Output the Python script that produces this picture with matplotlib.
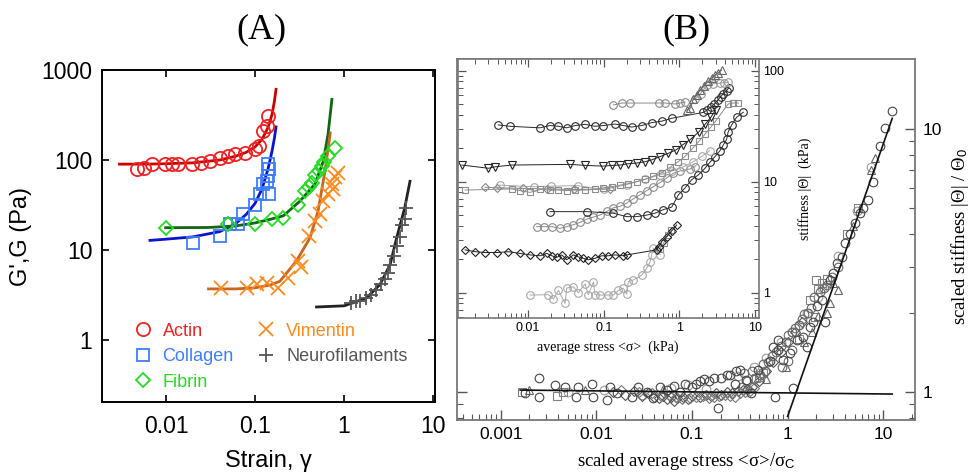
import matplotlib
matplotlib.use("Agg")
import matplotlib.pyplot as plt
from matplotlib.lines import Line2D
from matplotlib.ticker import LogLocator, FuncFormatter, NullLocator

# ---------------- panel A : G' vs strain ----------------
actin_x = [0.0047, 0.0056, 0.0069, 0.0098, 0.0116, 0.0138, 0.0195, 0.025, 0.031, 0.040,
           0.050, 0.060, 0.077, 0.10, 0.11, 0.124, 0.135, 0.141]
actin_y = [79, 82, 90, 90, 91, 91, 90, 93, 97, 104, 110, 116, 121, 131, 143, 210, 240, 308]
actin_fit_x = [0.003, 0.006, 0.01, 0.02, 0.04, 0.06, 0.08, 0.1, 0.12, 0.14, 0.155, 0.165, 0.172]
actin_fit_y = [90, 90, 91, 93, 100, 110, 122, 140, 170, 230, 320, 450, 610]

collagen_x = [0.0203, 0.0404, 0.052, 0.065, 0.074, 0.1, 0.114, 0.124, 0.135, 0.14, 0.145, 0.141, 0.145]
collagen_y = [12.0, 14.3, 19.3, 19.3, 24.9, 32, 41.6, 53.7, 58, 66, 79, 90, 42]
collagen_fit_x = [0.0066, 0.01, 0.02, 0.04, 0.06, 0.08, 0.1, 0.12, 0.14, 0.155, 0.165, 0.172]
collagen_fit_y = [12.8, 13.2, 14, 16, 19.5, 25, 33, 48, 80, 125, 175, 233]

fibrin_x = [0.0099, 0.05, 0.1, 0.154, 0.208, 0.307, 0.365, 0.434, 0.47, 0.56, 0.66, 0.79, 0.40, 0.52, 0.60]
fibrin_y = [17.7, 19.3, 19.3, 21.9, 22.7, 32, 45, 56, 69, 86, 111, 137, 50, 75, 95]
fibrin_fit_x = [0.0099, 0.03, 0.06, 0.1, 0.15, 0.208, 0.32, 0.47, 0.585, 0.66, 0.73]
fibrin_fit_y = [17.7, 17.8, 18.5, 20, 22, 24, 35, 54, 97, 193, 472]

vim_x = [0.042, 0.081, 0.105, 0.135, 0.18, 0.237, 0.307, 0.33, 0.40, 0.47, 0.53, 0.58,
         0.66, 0.73, 0.75, 0.79, 0.85]
vim_y = [3.75, 3.75, 4.2, 4.3, 3.8, 4.9, 7.5, 6.5, 14.3, 21, 25, 35, 42, 54, 48, 64, 72]
vim_fit_x = [0.03, 0.06, 0.1, 0.15, 0.19, 0.29, 0.415, 0.51, 0.61, 0.7]
vim_fit_y = [3.7, 3.7, 3.8, 4.1, 4.5, 7.5, 13.7, 27, 75, 200]

nf_x = [1.2, 1.35, 1.5, 1.75, 2.0, 2.3, 2.6, 2.9, 3.1, 3.3, 3.6, 3.9, 4.2, 4.5, 4.8, 5.0]
nf_y = [2.6, 2.7, 2.75, 2.9, 3.2, 3.6, 4.2, 4.8, 5.6, 6.8, 8.5, 11, 14, 19, 22, 29.5]
nf_fit_x = [0.49, 1.0, 1.27, 1.8, 2.54, 3.29, 3.9, 4.8, 5.5]
nf_fit_y = [2.33, 2.4, 2.6, 2.95, 4.16, 6.9, 13.7, 29.5, 58]

labels_A = ["Actin", "Collagen", "Fibrin", "Vimentin", "Neurofilaments"]

# ---------------- panel B inset : stiffness vs stress (kPa) ----------------
in1_x = [0.134, 0.173, 0.222, 0.53, 0.645, 0.875, 1.02, 1.19]
in1_y = [49, 51, 51, 51, 51, 50, 51, 52]
in2_x = [1.25, 1.4, 1.53, 1.7, 1.87, 2.1, 2.41, 2.7, 2.95, 3.2, 3.62]
in2_y = [44, 46, 56, 60, 67, 72, 80, 86, 91, 95, 101]
in3_x = [1.6, 1.9, 2.3, 2.8, 3.44, 3.9, 4.4]
in3_y = [55, 62, 74, 76, 77, 78, 78.5]
in4_x = [0.00405, 0.00578, 0.0144, 0.0195, 0.0252, 0.0324, 0.0418, 0.0566, 0.0767, 0.0989,
         0.141, 0.181, 0.234, 0.318, 0.43, 0.58, 0.79, 2.07, 2.3, 2.6, 2.9, 3.2, 3.5, 3.8, 4.2, 4.5]
in4_y = [32.4, 31.5, 30.5, 32, 31.5, 30.5, 32, 32.8, 31.5, 32,
         33, 32, 31, 32, 34, 35, 37.2, 42, 44, 47, 50, 54, 58, 62, 66, 70]
in5_x = [0.00133, 0.003, 0.00367, 0.0061, 0.0359, 0.0566, 0.0989, 0.128, 0.164, 0.211, 0.273,
         0.351, 0.43, 0.555, 0.714, 0.9, 1.1, 1.4, 1.8, 2.2, 2.6, 3.0]
in5_y = [14.1, 13.2, 13.6, 14.1, 14.3, 14.0, 13.8, 14.0, 14.1, 14.5, 14.7,
         15.1, 15.7, 16.8, 18, 19.3, 21.4, 24, 28, 33, 38, 44]
in6_x = [0.00147, 0.0061, 0.0078, 0.0106, 0.0144, 0.0195, 0.0252, 0.0324, 0.0418, 0.0566,
         0.0767, 0.0989, 0.128, 0.164, 0.211, 0.273, 0.351, 0.45, 0.58, 0.75,
         0.95, 1.2, 1.5, 1.8, 2.2, 2.6, 3.0, 4.4, 5.15, 6.0]
in6_y = [8.4, 8.6, 8.3, 8.0, 8.5, 8.4, 8.4, 8.3, 8.4, 8.4,
         8.5, 8.8, 9.0, 9.3, 9.6, 10, 10.5, 11.2, 12, 13.5,
         15, 17, 20, 23, 27, 31, 35, 50, 51, 51]
in7_x = [0.0027, 0.0039, 0.0086, 0.018, 0.04, 0.12]
in7_y = [8.9, 8.8, 8.7, 8.6, 8.5, 8.6]
in8_x = [0.0042, 0.012, 0.02, 0.045, 0.1, 0.2, 0.35, 0.55, 0.8, 1.1, 1.5, 2.0, 2.5]
in8_y = [9.3, 9.0, 9.1, 9.2, 8.5, 9.4, 10.5, 11.5, 12.5, 13.5, 15, 17, 19]
in9_x = [0.0195, 0.0596, 0.134, 0.201, 0.273, 0.37, 0.477, 0.614, 0.79, 0.97, 1.19, 1.45,
         1.78, 2.18, 2.54, 2.95, 3.44, 3.8, 4.2, 4.4, 4.9, 5.7, 7.0]
in9_y = [5.37, 5.37, 5.2, 4.84, 4.84, 5.0, 5.2, 5.6, 5.9, 7.6, 8.8, 10.4,
         11.5, 13.2, 15, 16.8, 19, 21.4, 24, 28, 32.4, 38, 42.2]
in10_x = [0.013, 0.016, 0.0206, 0.0265, 0.0324, 0.0397, 0.0487, 0.0596, 0.073, 0.0894, 0.11,
          0.134, 0.164, 0.201, 0.246, 0.302, 0.37, 0.453, 0.555, 0.68, 0.83, 1.02, 1.38, 1.6]
in10_y = [3.93, 3.93, 3.93, 3.8, 3.93, 4.1, 4.3, 4.6, 4.8, 5.0, 5.4,
          5.8, 6.0, 6.4, 7.0, 7.6, 8.3, 9.0, 9.8, 10.8, 11.9, 12.5, 13.0, 13.6]
in11_x = [0.00147, 0.002, 0.0027, 0.00386, 0.0055, 0.0078, 0.0106, 0.0144, 0.0177, 0.0206,
          0.0239, 0.0279, 0.0324, 0.0397, 0.0462, 0.0538, 0.0626, 0.0767, 0.094, 0.115,
          0.141, 0.181, 0.201, 0.5, 0.53, 0.58, 0.68, 0.79, 0.92]
in11_y = [2.43, 2.34, 2.3, 2.3, 2.34, 2.26, 2.19, 2.15, 2.26, 2.15,
          2.08, 2.19, 1.98, 2.19, 2.10, 2.04, 1.98, 2.04, 2.15, 2.15,
          2.19, 2.15, 2.19, 2.43, 2.6, 2.88, 3.2, 3.6, 4.07]
in12_x = [0.55, 0.62, 0.7, 0.78]
in12_y = [2.5, 2.8, 3.3, 3.7]
in13_x = [0.0106, 0.0186, 0.0216, 0.0252, 0.0308, 0.0324, 0.0397, 0.0462, 0.0566, 0.0626,
          0.073, 0.0767, 0.0894, 0.115, 0.134, 0.156, 0.181, 0.201, 0.211, 0.246,
          0.318, 0.37, 0.41, 0.43, 0.453, 0.555]
in13_y = [0.953, 0.96, 0.88, 1.05, 0.80, 1.1, 1.13, 1.0, 1.2, 0.96,
          1.25, 0.96, 0.953, 0.953, 0.953, 1.05, 1.1, 0.97, 1.26, 1.3,
          1.44, 1.66, 1.9, 2.19, 2.51, 2.2]

# ---------------- panel B main : scaled data ----------------
oc_x = [0.0018, 0.0025, 0.0025, 0.0037, 0.0047, 0.0062, 0.0065, 0.009, 0.0093, 0.0129,
        0.0139, 0.0163, 0.0234, 0.0275, 0.0336, 0.0394, 0.046, 0.055, 0.065, 0.075,
        0.085, 0.10, 0.11, 0.12, 0.135, 0.15, 0.17, 0.188, 0.20, 0.23,
        0.25, 0.28, 0.29, 0.32, 0.37, 0.41, 0.49, 0.65, 0.71, 0.74,
        0.79, 0.80, 0.90, 1.06, 1.15, 1.24, 1.46, 1.58, 1.71, 1.85,
        2.01, 2.26, 2.45, 2.77, 3.0, 3.25, 3.67, 3.97, 4.5, 5.05,
        5.7, 6.2, 6.95, 7.8, 9.2, 10.4, 12.2]
oc_y = [0.99, 1.13, 0.96, 1.07, 1.05, 0.96, 1.05, 1.08, 0.96, 0.935,
        1.05, 0.99, 0.96, 1.05, 1.0, 0.95, 1.05, 1.02, 1.06, 1.0,
        1.08, 1.05, 1.08, 1.10, 1.12, 1.10, 1.13, 0.87, 1.13, 1.16,
        1.16, 1.08, 1.20, 1.22, 1.11, 0.99, 1.22, 1.31, 1.49, 0.96,
        1.58, 1.45, 1.33, 1.41, 1.04, 1.58, 1.63, 1.49, 1.77, 1.85,
        2.12, 2.24, 1.85, 2.67, 2.83, 3.1, 3.28, 3.7, 4.0, 4.4,
        4.8, 5.0, 5.4, 6.3, 8.6, 10.1, 11.7]
oc2_x = [0.35, 0.42, 0.55, 0.62, 0.68, 0.75, 0.85, 0.95, 1.0, 1.1,
         1.2, 1.3, 1.4, 1.5, 1.65, 1.75, 1.9, 2.2, 2.4, 2.6,
         2.9, 3.4, 0.33, 0.38, 0.45, 0.52, 0.58, 0.88, 1.02, 1.12]
oc2_y = [1.18, 1.2, 1.28, 1.3, 1.38, 1.42, 1.5, 1.55, 1.65, 1.7,
         1.75, 1.8, 1.9, 1.98, 2.0, 2.1, 2.3, 2.4, 2.5, 2.55,
         2.75, 3.0, 1.05, 1.1, 1.12, 1.16, 1.2, 1.25, 1.32, 1.45]
ol_x = [0.005, 0.012, 0.03, 0.06, 0.09, 0.14, 0.3, 0.45, 0.6, 0.85, 1.1, 1.3, 1.6, 2.1, 2.3, 3.4, 5.3, 7.5]
ol_y = [1.0, 1.02, 0.98, 1.04, 1.07, 1.03, 1.15, 1.25, 1.35, 1.55, 1.7, 1.8, 2.0, 2.3, 2.5, 3.3, 4.9, 7.2]
od_x = [0.015, 0.02, 0.025, 0.03, 0.035, 0.04, 0.045, 0.05, 0.055, 0.06,
        0.065, 0.07, 0.08, 0.09, 0.1, 0.12, 0.14, 0.16, 0.18, 0.2,
        0.23, 0.26, 0.3, 0.34, 0.38, 0.42, 0.5, 0.6, 0.7, 0.85, 1.0, 1.2, 1.4]
od_y = [1.0, 0.98, 1.01, 0.97, 0.99, 0.96, 0.95, 0.97, 0.94, 0.96,
        0.93, 0.95, 0.96, 0.94, 0.97, 0.96, 0.98, 0.97, 0.99, 0.98,
        1.0, 0.99, 1.01, 1.02, 1.03, 1.05, 1.1, 1.2, 1.3, 1.42, 1.55, 1.7, 1.85]
od2_x = [0.018, 0.028, 0.038, 0.048, 0.058, 0.068, 0.078, 0.095, 0.11, 0.13,
         0.15, 0.17, 0.19, 0.22, 0.25, 0.28, 0.32, 0.36, 0.4, 0.45]
od2_y = [1.02, 1.0, 0.99, 0.97, 0.98, 0.96, 0.94, 0.95, 0.96, 0.97,
         0.95, 0.96, 0.97, 0.98, 0.97, 0.96, 0.99, 1.0, 1.01, 1.04]
os_x = [0.00166, 0.00385, 0.0045, 0.47, 0.5, 0.55, 1.3, 1.71, 1.93, 2.0, 2.09, 2.3, 2.6, 4.2, 5.5]
os_y = [1.0, 0.97, 1.0, 1.13, 1.14, 1.18, 1.6, 2.24, 1.94, 2.67, 2.48, 2.6, 2.7, 4.0, 5.0]
ot_x = [0.002, 0.0076, 0.05, 0.6, 0.95, 1.5, 1.8, 2.1, 2.55, 2.77, 3.0, 3.36, 4.8, 7.5, 8.2]
ot_y = [1.02, 1.02, 1.03, 1.12, 1.25, 1.55, 1.7, 1.95, 2.0, 2.18, 2.6, 2.45, 4.3, 7.0, 7.8]
flat_x = [0.0016, 12.4]
flat_y = [1.02, 0.985]
steep_x = [1.0, 12.4]
steep_y = [0.81, 11.0]

# ---------------- style ----------------
plt.rcParams['font.family'] = ['Liberation Sans', 'DejaVu Sans']
plt.rcParams['mathtext.fontset'] = 'custom'
plt.rcParams['mathtext.rm'] = 'Liberation Serif'
plt.rcParams['mathtext.sf'] = 'Liberation Sans'
plt.rcParams['mathtext.it'] = 'Liberation Serif:italic'
SERIF = ['Liberation Serif', 'DejaVu Serif']
plain = FuncFormatter(lambda v, p: f'{v:g}')
blank = FuncFormatter(lambda v, p: '')

fig = plt.figure(figsize=(9.76, 4.73), dpi=100)

# ===== panel A =====
axA = fig.add_axes([0.1045, 0.1501, 0.3412, 0.7019])
axA.set_xscale('log')
axA.set_yscale('log')

series_A = [
    (actin_x, actin_y, actin_fit_x, actin_fit_y, 'o', '#ee2222', '#cc0000', 9.5),
    (collagen_x, collagen_y, collagen_fit_x, collagen_fit_y, 's', '#3c7dff', '#0a14cc', 8.5),
    (fibrin_x, fibrin_y, fibrin_fit_x, fibrin_fit_y, 'D', '#22dd22', '#116611', 7.5),
    (vim_x, vim_y, vim_fit_x, vim_fit_y, 'x', '#ff8a1c', '#c8661e', 9.5),
    (nf_x, nf_y, nf_fit_x, nf_fit_y, '+', '#555555', '#222222', 9.5),
]
handles = []
for xs, ys, fx, fy, mk, mc, lc, ms in series_A:
    axA.plot(fx, fy, '-', color=lc, lw=2.0, zorder=2)
    axA.plot(xs, ys, linestyle='none', marker=mk, ms=ms, mfc='none', mec=mc, mew=1.3, zorder=3)
    handles.append(Line2D([], [], linestyle='none', marker=mk, ms=ms, mfc='none', mec=mc, mew=1.3))

axA.set_xlim(0.00191, 10.5)
axA.set_ylim(0.205, 1000)
axA.xaxis.set_major_locator(LogLocator(base=10, numticks=10))
axA.yaxis.set_major_locator(LogLocator(base=10, numticks=10))
axA.xaxis.set_minor_locator(NullLocator())
axA.yaxis.set_minor_locator(NullLocator())
axA.xaxis.set_major_formatter(plain)
axA.yaxis.set_major_formatter(plain)
axA.tick_params(which='major', direction='in', top=True, right=True, length=5, width=1.2,
                labelsize=16.5, pad=7)
axA.tick_params(axis='x', pad=9)
for sp in axA.spines.values():
    sp.set_linewidth(1.4)
axA.set_xlabel('Strain, γ', fontsize=17, labelpad=9)
axA.set_ylabel("G',G (Pa)", fontsize=17, labelpad=7)

axA.legend(handles, labels_A, ncol=2, loc='upper left', bbox_to_anchor=(0.095, 0.239),
           frameon=False, fontsize=13, handlelength=1.0, handletextpad=0.6,
           columnspacing=1.3, labelspacing=0.47, borderpad=0, borderaxespad=0,
           labelcolor=['#ee2222', '#3c7dff', '#22dd22', '#ff8a1c', '#555555'])

fig.text(0.2674, 0.937, '(A)', family=SERIF, fontsize=26, ha='center', va='center')
fig.text(0.7036, 0.937, '(B)', family=SERIF, fontsize=26, ha='center', va='center')

# ===== panel B main =====
axB = fig.add_axes([0.4685, 0.1121, 0.4695, 0.7632])
axB.set_xscale('log')
axB.set_yscale('log')
mk_kw = dict(linestyle='none', mfc='none', mew=0.8)
axB.plot(ol_x, ol_y, marker='o', ms=6.2, mec='#9a9a9a', **mk_kw)
axB.plot(od_x, od_y, marker='D', ms=4.8, mec='#555555', **mk_kw)
axB.plot(od2_x, od2_y, marker='D', ms=4.8, mec='#777777', **mk_kw)
axB.plot(os_x, os_y, marker='s', ms=5.8, mec='#808080', **mk_kw)
axB.plot(ot_x, ot_y, marker='^', ms=6.2, mec='#666666', **mk_kw)
axB.plot(oc2_x, oc2_y, marker='o', ms=6.2, mec='#666666', **mk_kw)
axB.plot(oc_x, oc_y, marker='o', ms=6.2, mec='#444444', **mk_kw)
axB.plot(flat_x, flat_y, '-', color='#111111', lw=1.2)
axB.plot(steep_x, steep_y, '-', color='#111111', lw=1.2)
axB.set_xlim(0.000352, 21.7)
axB.set_ylim(0.785, 18.5)
axB.xaxis.set_major_locator(LogLocator(base=10, numticks=12))
axB.xaxis.set_minor_locator(LogLocator(base=10, subs=range(2, 10), numticks=12))
axB.yaxis.set_major_locator(LogLocator(base=10, numticks=12))
axB.yaxis.set_minor_locator(LogLocator(base=10, subs=range(2, 10), numticks=12))
axB.xaxis.set_major_formatter(plain)
axB.yaxis.set_major_formatter(plain)
axB.xaxis.set_minor_formatter(blank)
axB.yaxis.set_minor_formatter(blank)
axB.tick_params(which='both', direction='in', top=False, left=True, right=True,
                labelleft=False, labelright=True, color='#555555', labelsize=12.5, pad=5)
axB.tick_params(which='major', length=7, width=1.0)
axB.tick_params(which='minor', length=4, width=0.8)
for sp in axB.spines.values():
    sp.set_color('#777777')
    sp.set_linewidth(1.3)
axB.set_xlabel(r'scaled average stress <σ>/σ$_{\mathsf{C}}$', family=SERIF, fontsize=13.5)
axB.xaxis.set_label_coords(0.499, -0.085)
axB.yaxis.set_label_position('right')
axB.set_ylabel(r'scaled stiffness |Θ| / Θ$_{\mathsf{0}}$', family=SERIF, fontsize=13.5)
axB.yaxis.set_label_coords(1.073, 0.507)

# ===== panel B inset =====
axI = fig.add_axes([0.4688, 0.327, 0.3084, 0.5482])
axI.set_facecolor('white')
axI.set_xscale('log')
axI.set_yscale('log')
inset_series = [
    (in13_x, in13_y, 'o', '#a8a8a8', 5.5),
    (in12_x, in12_y, 's', '#909090', 5),
    (in11_x, in11_y, 'D', '#222222', 4.5),
    (in10_x, in10_y, 'o', '#8a8a8a', 5.5),
    (in9_x, in9_y, 'o', '#2a2a2a', 5.5),
    (in8_x, in8_y, 'o', '#a8a8a8', 5.5),
    (in7_x, in7_y, 'D', '#888888', 4.5),
    (in6_x, in6_y, 's', '#8c8c8c', 5),
    (in5_x, in5_y, 'v', '#222222', 5.5),
    (in4_x, in4_y, 'o', '#2a2a2a', 5.5),
    (in3_x, in3_y, 'o', '#9a9a9a', 5.5),
    (in2_x, in2_y, '^', '#666666', 5.5),
    (in1_x, in1_y, 'o', '#8a8a8a', 5.5),
]
for xs, ys, mk, col, ms in inset_series:
    axI.plot(xs, ys, '-', color=col, lw=0.7, marker=mk, ms=ms, mfc='none', mec=col, mew=0.8)
axI.set_xlim(0.00117, 11.1)
axI.set_ylim(0.588, 127)
axI.xaxis.set_major_locator(LogLocator(base=10, numticks=12))
axI.xaxis.set_minor_locator(LogLocator(base=10, subs=range(2, 10), numticks=12))
axI.yaxis.set_major_locator(LogLocator(base=10, numticks=12))
axI.yaxis.set_minor_locator(LogLocator(base=10, subs=range(2, 10), numticks=12))
axI.xaxis.set_major_formatter(plain)
axI.yaxis.set_major_formatter(plain)
axI.xaxis.set_minor_formatter(blank)
axI.yaxis.set_minor_formatter(blank)
axI.tick_params(which='both', direction='in', top=True, bottom=True, left=True, right=True,
                labelleft=False, labelright=True, color='#555555', labelsize=9, pad=3)
axI.tick_params(which='major', length=6, width=0.9)
axI.tick_params(which='minor', length=3.5, width=0.7)
for sp in axI.spines.values():
    sp.set_color('#777777')
    sp.set_linewidth(1.2)
axI.set_xlabel('average stress <σ>  (kPa)', family=SERIF, fontsize=10)
axI.xaxis.set_label_coords(0.5, -0.085)
axI.yaxis.set_label_position('right')
axI.set_ylabel('stiffness |Θ|  (kPa)', family=SERIF, fontsize=10)
axI.yaxis.set_label_coords(1.131, 0.5)

fig.savefig('out.png', dpi=100)
